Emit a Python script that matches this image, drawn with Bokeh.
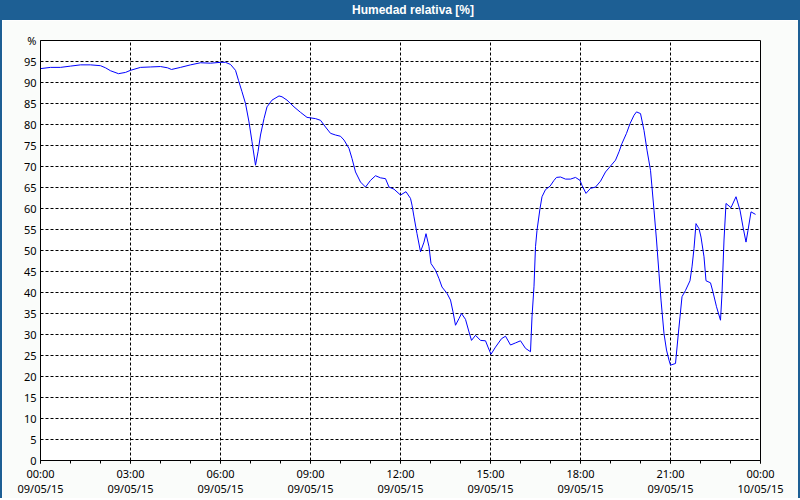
from bokeh.plotting import figure
from bokeh.models import Range1d, FixedTicker, Div
from bokeh.layouts import column, row
from bokeh.embed import file_html
from bokeh.resources import INLINE

TITLE = "Humedad relativa [%]"

# sample times in minutes after 00:00 on 09/05/15
minutes = [
    0, 20, 40, 60, 80, 100, 120, 130, 140, 156, 170, 180, 200, 220, 240, 254, 262,
    280, 300, 320, 340, 360, 370, 380, 390, 396, 403, 410, 417, 423, 430, 435, 440,
    447, 453, 463, 477, 483, 493, 507, 520, 533, 550, 560, 570, 580, 590, 600, 607,
    617, 623, 630, 640, 650, 660, 670, 680, 690, 697, 707, 720, 731, 740, 743, 747,
    753, 760, 767, 771, 777, 781, 790, 797, 803, 813, 820, 825, 830, 837, 842, 850,
    857, 862, 870, 880, 890, 895, 901, 910, 922, 930, 940, 950, 960, 970, 980, 983,
    987, 990, 993, 999, 1003, 1010, 1019, 1027, 1032, 1040, 1050, 1060, 1070, 1079,
    1083, 1091, 1100, 1110, 1120, 1130, 1140, 1150, 1157, 1163, 1172, 1179, 1187,
    1192, 1200, 1207, 1213, 1220, 1227, 1232, 1237, 1241, 1247, 1252, 1257, 1260,
    1270, 1275, 1279, 1283, 1290, 1299, 1303, 1307, 1311, 1317, 1321, 1327, 1331,
    1340, 1345, 1352, 1360, 1363, 1367, 1371, 1381, 1391, 1399, 1405, 1411, 1415,
    1421, 1430,
]
humidity = [
    93.3, 93.6, 93.6, 93.9, 94.2, 94.2, 94.0, 93.5, 92.8, 92.1, 92.4, 92.9, 93.6, 93.7, 93.8, 93.5, 93.1,
    93.6, 94.2, 94.7, 94.6, 94.8, 94.8, 94.3, 92.9, 90.5, 87.8, 85.0, 80.6, 75.9, 70.3, 73.5, 77.5,
    81.4, 84.2, 85.8, 86.8, 86.6, 85.8, 84.2, 82.9, 81.7, 81.4, 81.0, 79.4, 77.9, 77.5, 77.2, 76.3,
    74.3, 71.9, 68.7, 66.3, 65.1, 66.7, 67.8, 67.3, 67.1, 65.1, 64.6, 63.2, 64.0, 62.4, 60.8, 58.0,
    54.0, 49.7, 52.0, 54.0, 50.9, 46.9, 45.3, 43.3, 41.3, 39.8, 38.2, 35.4, 32.2, 33.8, 35.0, 33.6,
    30.6, 28.6, 29.8, 28.6, 28.5, 27.0, 25.3, 27.0, 29.0, 29.6, 27.5, 28.0, 28.5, 26.7, 25.9, 34.2,
    41.5, 50.9, 54.8, 60.0, 62.8, 64.5, 65.3, 66.7, 67.4, 67.5, 67.0, 67.0, 67.4, 66.7,
    65.5, 63.6, 64.8, 65.1, 66.5, 68.7, 70.1, 71.5, 73.5, 75.5, 77.9, 80.2, 82.2,
    83.0, 82.6, 78.6, 73.9, 69.1, 59.6, 52.5, 44.5, 38.2, 30.2, 26.3, 23.9, 22.7,
    23.1, 29.4, 34.2, 39.0, 40.5, 42.8, 46.1, 50.5, 56.4, 55.2, 53.2, 48.5, 42.8,
    42.3, 40.1, 36.6, 33.4, 39.8, 52.5, 61.2, 60.2, 62.8, 59.6, 55.6, 52.0, 54.8,
    59.2, 58.6,
]

tick_hours = [0, 3, 6, 9, 12, 15, 18, 21, 24]
tick_times = ["00:00", "03:00", "06:00", "09:00", "12:00", "15:00", "18:00", "21:00", "00:00"]
tick_dates = ["09/05/15"] * 8 + ["10/05/15"]
y_ticks = list(range(0, 101, 5))

hours = [m / 60.0 for m in minutes]

BLUE = "#1d5f94"
BG = "#fafcfa"
FONT = "Noto Sans"

p = figure(width=796, height=478, x_range=Range1d(0, 24), y_range=Range1d(0, 100),
           output_backend="svg", toolbar_location=None,
           min_border_left=38, min_border_right=38, min_border_top=20, min_border_bottom=38,
           background_fill_color="white", border_fill_color=BG)
p.outline_line_color = "black"
p.outline_line_width = 1

p.line(hours, humidity, line_color="#0000ff", line_width=1)

xa = p.xaxis[0]
xa.ticker = FixedTicker(ticks=tick_hours, minor_ticks=list(range(0, 25)))
xa.major_label_overrides = {h: f"{t}\n{d}" for h, t, d in zip(tick_hours, tick_times, tick_dates)}
xa.major_tick_in = 0
xa.major_tick_out = 3
xa.minor_tick_in = 0
xa.minor_tick_out = 3
xa.major_label_standoff = 2
xa.major_label_text_font = FONT
xa.major_label_text_font_size = "11px"
xa.major_label_text_color = "black"
xa.major_label_text_line_height = 1.0
xa.axis_line_color = "black"

ya = p.yaxis[0]
ya.ticker = FixedTicker(ticks=y_ticks)
ya.major_label_overrides = {100: "%"}
ya.major_tick_in = 0
ya.major_tick_out = 0
ya.minor_tick_in = 0
ya.minor_tick_out = 0
ya.major_label_standoff = 4
ya.major_label_text_font = FONT
ya.major_label_text_font_size = "11px"
ya.major_label_text_color = "black"
ya.axis_line_color = "black"

for g in (p.xgrid[0], p.ygrid[0]):
    g.grid_line_color = "black"
    g.grid_line_dash = "3 2"
    g.grid_line_width = 1
p.xgrid[0].ticker = FixedTicker(ticks=tick_hours)
p.ygrid[0].ticker = FixedTicker(ticks=y_ticks)


def bar(w, h):
    return Div(text=f'<div style="width:{w}px;height:{h}px;background:{BLUE};"></div>',
               width=w, height=h, margin=0)


title = Div(text=(f'<div style="width:800px;height:20px;line-height:20px;background:{BLUE};'
                  'color:#ffffff;font-family:\'Liberation Sans\';font-weight:bold;font-size:12px;'
                  'text-align:center;padding-left:26px;box-sizing:border-box;">'
                  f'{TITLE}</div>'),
            width=800, height=20, margin=0)

layout = column(title, row(bar(2, 478), p, bar(2, 478), margin=0), bar(800, 2), margin=0)

open("out.html", "w").write(file_html(layout, INLINE))
